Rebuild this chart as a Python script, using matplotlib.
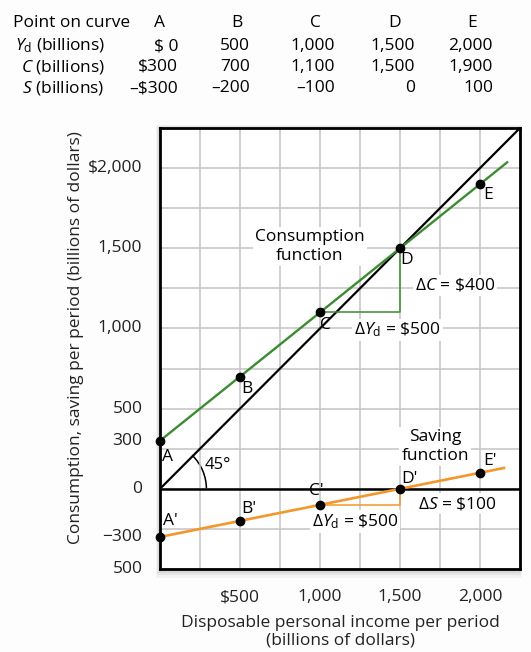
import numpy as np
import matplotlib
matplotlib.use('Agg')
import matplotlib.pyplot as plt
from matplotlib.patches import Arc, Rectangle

plt.rcParams['font.family'] = ['Open Sans', 'DejaVu Sans']
plt.rcParams['mathtext.fontset'] = 'custom'
plt.rcParams['mathtext.rm'] = 'Open Sans'
plt.rcParams['mathtext.it'] = 'Open Sans:italic'

# data from the table
points = ['A', 'B', 'C', 'D', 'E']
yd = [0, 500, 1000, 1500, 2000]
cons = [300, 700, 1100, 1500, 1900]
sav = [-300, -200, -100, 0, 100]

yd_labels = ['$ 0', '500', '1,000', '1,500', '2,000']
cons_labels = ['$300', '700', '1,100', '1,500', '1,900']
sav_labels = ['\u2013$300', '\u2013200', '\u2013100', '0', '100']

# line ends (lines run past the last point)
cons_line_x = [0, 2170]
cons_line_y = [300, 2036]
sav_line_x = [0, 2150]
sav_line_y = [-300, 130]

xticks = [500, 1000, 1500, 2000]
xtick_labels = ['$500', '1,000', '1,500', '2,000']
yticks = [2000, 1500, 1000, 500, 300, 0, -300, -500]
ytick_labels = ['$2,000', '1,500', '1,000', '500', '300', '0', '\u2212300', '500']

GREEN = '#3b8c30'
ORANGE = '#f5962a'
FS = 12.5

fig = plt.figure(figsize=(5.31, 6.52), dpi=100)
fig.patch.set_facecolor('#fdfdfd')
ax = fig.add_axes([160 / 531, 1 - 569 / 652, 360 / 531, 441 / 652], zorder=2)
ax.set_facecolor('white')

# drop shadow behind the frame
for i, a in enumerate([0.04, 0.05, 0.06, 0.08]):
    off = (4 - i) * 0.0022
    fig.patches.append(Rectangle((160 / 531 - off * 0.8, 1 - 569 / 652 - off * 1.5),
                                 360 / 531 + 2 * off * 0.6, 441 / 652 + 2 * off,
                                 transform=fig.transFigure, color='black',
                                 alpha=a, zorder=0, lw=0))

ax.set_xlim(0, 2250)
ax.set_ylim(-500, 2250)
ax.set_xticks(np.arange(0, 2251, 250))
ax.set_yticks(np.arange(-500, 2251, 250))
ax.grid(True, color='#c4c4c4', lw=1.1, zorder=0)
ax.tick_params(length=0, labelbottom=False, labelleft=False)
for s in ax.spines.values():
    s.set_linewidth(2)
    s.set_zorder(5)

for t, l in zip(xticks, xtick_labels):
    ax.text(t, -675, l, ha='center', va='center', fontsize=FS, color='#222222', clip_on=False)
for t, l in zip(yticks, ytick_labels):
    ax.text(-110, t, l, ha='right', va='center', fontsize=FS, color='#222222', clip_on=False)

# axis line, 45 degree line
ax.axhline(0, color='black', lw=1.8, zorder=2)
ax.plot([0, 2250], [0, 2250], color='black', lw=1.6, zorder=2)
ax.add_patch(Arc((0, 0), 580, 580, theta1=0, theta2=45, color='black', lw=1.1))
ax.text(280, 150, '45\u00b0', fontsize=FS - 0.5, ha='left', va='center')

# consumption and saving
ax.plot(cons_line_x, cons_line_y, color=GREEN, lw=1.7, zorder=3)
ax.plot(sav_line_x, sav_line_y, color=ORANGE, lw=1.9, zorder=3)
ax.plot([yd[2], yd[3], yd[3]], [cons[2], cons[2], cons[3]], color=GREEN, lw=1.1, zorder=2)
ax.plot([yd[2], yd[3], yd[3]], [sav[2], sav[2], sav[3]], color=ORANGE, lw=1.1, zorder=2)
ax.plot(yd, cons, 'o', color='black', ms=6, zorder=6, clip_on=False)
ax.plot(yd, sav, 'o', color='black', ms=6, zorder=6, clip_on=False)

# point labels
c_pos = [(50, 200), (544, 625), (1035, 1020), (1544, 1425), (2050, 1830)]
s_pos = [(62, -200), (552, -125), (980, -12), (1562, 62), (2062, 175)]
for p, (x, y) in zip(points, c_pos):
    ax.text(x, y, p, fontsize=FS, ha='center', va='center', zorder=7)
for p, (x, y) in zip(points, s_pos):
    ax.text(x, y, p + "'", fontsize=FS, ha='center', va='center', zorder=7)

box = dict(facecolor='white', edgecolor='none', pad=1.5)
ax.text(937, 1510, 'Consumption\nfunction', fontsize=FS, ha='center', va='center',
        linespacing=1.2, bbox=box, zorder=4)
ax.text(1720, 265, 'Saving\nfunction', fontsize=FS, ha='center', va='center',
        linespacing=1.2, bbox=box, zorder=4)
ax.text(1843, 1270, r'$\Delta C$ = \$400', fontsize=FS, ha='center', va='center', bbox=box, zorder=4)
ax.text(1484, 990, r'$\Delta Y_{\rm d}$ = \$500', fontsize=FS, ha='center', va='center', bbox=box, zorder=4)
ax.text(1856, -94, r'$\Delta S$ = \$100', fontsize=FS, ha='center', va='center', bbox=box, zorder=4)
ax.text(1219, -205, r'$\Delta Y_{\rm d}$ = \$500', fontsize=FS, ha='center', va='center', bbox=box, zorder=4)

# axis titles
fig.text(76 / 531, 1 - 338 / 652, 'Consumption, saving per period (billions of dollars)',
         rotation=90, ha='center', va='center', fontsize=FS, color='#222222')
fig.text(340 / 531, 1 - 632 / 652, 'Disposable personal income per period\n(billions of dollars)',
         ha='center', va='center', fontsize=FS, linespacing=1.1, color='#222222')

# table at the top
rows_y = [23, 46, 67, 88]
col_letter_x = [159, 237, 315, 395, 472]
col_right_x = [178, 250, 335, 415, 493]
fig.text(13 / 531, 1 - rows_y[0] / 652, 'Point on curve', ha='left', va='center', fontsize=FS)
fig.text(105 / 531, 1 - rows_y[1] / 652, r'$Y_{\rm d}$ (billions)', ha='right', va='center', fontsize=FS)
fig.text(105 / 531, 1 - rows_y[2] / 652, r'$C$ (billions)', ha='right', va='center', fontsize=FS)
fig.text(104 / 531, 1 - rows_y[3] / 652, r'$S$ (billions)', ha='right', va='center', fontsize=FS)
for i in range(5):
    fig.text(col_letter_x[i] / 531, 1 - rows_y[0] / 652, points[i], ha='center', va='center', fontsize=FS)
    for r, labs in zip(rows_y[1:], [yd_labels, cons_labels, sav_labels]):
        fig.text(col_right_x[i] / 531, 1 - r / 652, labs[i], ha='right', va='center', fontsize=FS)

fig.savefig('out.png', dpi=100, facecolor=fig.get_facecolor())
